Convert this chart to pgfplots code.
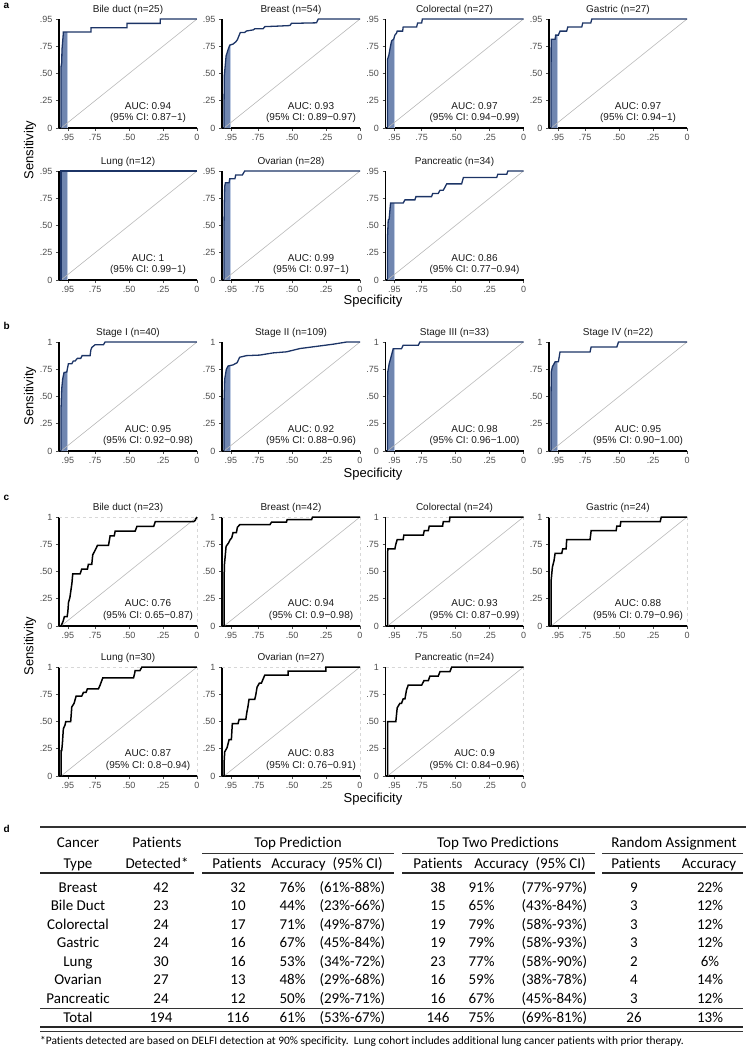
\documentclass[border=0pt]{standalone}
\usepackage{fontspec}
\setmainfont{Liberation Sans}
\newfontfamily\calib[Ligatures=NoCommon]{Carlito}
\usepackage{pgfplots}
\pgfplotsset{compat=1.18}
\definecolor{navycol}{RGB}{28,52,102}
\definecolor{bandfill}{RGB}{112,134,176}
\definecolor{bandlight}{RGB}{190,203,226}
\definecolor{diagcol}{RGB}{185,185,185}
\definecolor{tickgray}{RGB}{77,77,77}
\definecolor{titlegray}{RGB}{26,26,26}
\definecolor{framegray}{RGB}{215,215,215}
\pgfplotsset{
  roc/.style={
    scale only axis, width=138pt, height=109pt, anchor=south west,
    xmin=0, xmax=1.015, x dir=reverse, ymin=0, ymax=1,
    axis x line*=bottom, axis y line*=left,
    axis line style={-, line width=1.5pt, black},
    xtick={0.95,0.75,0.5,0.25,0}, xticklabels={.95,.75,.50,.25,0},
    ytick={0,0.25,0.5,0.75,1},
    tick align=outside, major tick length=3pt,
    tick style={line width=0.6pt, tickgray},
    tick label style={font=\fontsize{9}{10}\selectfont, text=tickgray},
    title style={at={(0.5,1)}, anchor=base, yshift=1pt, font=\fontsize{10}{12}\selectfont, text=titlegray},
    clip=false,
    /pgf/number format/assume math mode=true,
  },
}
% panel with band: #1 x, #2 ybottom, #3 title, #4 ylabels, #5 curve, #6 fill, #7 sens at .95, #8 AUC, #9 CI
\newcommand{\rocpanel}[9]{%
\begin{axis}[roc, at={(#1pt,-#2pt)}, title={#3}, yticklabels={#4}]
 \addplot[fill=bandfill, draw=none] coordinates {#6};
 \addplot[bandlight, line width=1pt] coordinates {(0.95,0) (0.95,#7)};
 \addplot[diagcol, line width=0.6pt] coordinates {(1,0) (0,1)};
 \addplot[navycol, line width=1.3pt] coordinates {#5};
 \node[anchor=base, font=\fontsize{10}{12}\selectfont, text=titlegray] at (axis cs:0.36,0.17) {AUC: #8};
 \node[anchor=base, font=\fontsize{10}{12}\selectfont, text=titlegray] at (axis cs:0.36,0.065) {(95\% CI: #9)};
\end{axis}}
% panel c: #1 x, #2 ybottom, #3 title, #4 curve, #5 AUC, #6 CI
\newcommand{\rocc}[6]{%
\begin{axis}[roc, at={(#1pt,-#2pt)}, title={#3}, yticklabels={0,.25,.50,.75,1}]
 \draw[framegray, dashed, line width=0.6pt] (rel axis cs:0,1) -- (rel axis cs:1,1) -- (rel axis cs:1,0);
 \addplot[diagcol, line width=0.6pt] coordinates {(1,0) (0,1)};
 \addplot[black, line width=1.5pt] coordinates {#4};
 \node[anchor=base, font=\fontsize{10}{12}\selectfont, text=titlegray] at (axis cs:0.36,0.175) {AUC: #5};
 \node[anchor=base, font=\fontsize{10}{12}\selectfont, text=titlegray] at (axis cs:0.36,0.068) {(95\% CI: #6)};
\end{axis}}
\begin{document}
\begin{tikzpicture}
\useasboundingbox (0,0) rectangle (747pt,-1050pt);
% ---------- panel a ----------
\node[anchor=north west, font=\bfseries\fontsize{10}{12}\selectfont] at (0pt,0pt) {a};
\rocpanel{59}{128}{Bile duct (n=25)}{0,.25,.50,.75,.95}
 {(1,0)(1,0.56)(0.995,0.6)(0.993,0.72)(0.985,0.84)(0.983,0.88)(0.78,0.88)(0.78,0.92)(0.515,0.92)(0.515,0.96)(0.27,0.96)(0.27,1)(0,1)}
 {(1,0)(1,0.56)(0.995,0.6)(0.993,0.72)(0.985,0.84)(0.983,0.88)(0.95,0.88)(0.95,0)}{0.88}{0.94}{0.87−1}
\rocpanel{222}{128}{Breast (n=54)}{0,.25,.50,.75,.95}
 {(1,0)(1,0.2)(0.998,0.48)(0.985,0.66)(0.97,0.72)(0.958,0.76)(0.934,0.77)(0.914,0.79)(0.902,0.81)(0.889,0.85)(0.88,0.877)(0.848,0.877)(0.835,0.89)(0.786,0.90)(0.774,0.91)(0.713,0.91)(0.70,0.93)(0.60,0.935)(0.516,0.94)(0.504,0.96)(0.32,0.965)(0.307,1)(0,1)}
 {(1,0)(1,0.2)(0.998,0.48)(0.985,0.66)(0.97,0.72)(0.958,0.76)(0.95,0.763)(0.95,0)}{0.763}{0.93}{0.89−0.97}
\rocpanel{385.5}{128}{Colorectal (n=27)}{0,.25,.50,.75,.95}
 {(1,0)(1,0.63)(0.99,0.67)(0.98,0.74)(0.97,0.80)(0.955,0.815)(0.946,0.852)(0.934,0.87)(0.929,0.889)(0.889,0.889)(0.885,0.926)(0.786,0.926)(0.779,0.963)(0.749,0.963)(0.744,1)(0,1)}
 {(1,0)(1,0.63)(0.99,0.67)(0.98,0.74)(0.97,0.80)(0.955,0.815)(0.95,0.835)(0.95,0)}{0.835}{0.97}{0.94−0.99}
\rocpanel{549}{128}{Gastric (n=27)}{0,.25,.50,.75,.95}
 {(1,0)(1,0.45)(0.999,0.815)(0.97,0.815)(0.966,0.852)(0.946,0.852)(0.934,0.889)(0.885,0.889)(0.877,0.926)(0.774,0.926)(0.767,0.963)(0.708,0.963)(0.70,1)(0,1)}
 {(1,0)(1,0.45)(0.999,0.815)(0.97,0.815)(0.966,0.852)(0.95,0.852)(0.95,0)}{0.852}{0.97}{0.94−1}
\rocpanel{59}{280}{Lung (n=12)}{0,.25,.50,.75,.95}
 {(1,0)(1,1)(0,1)}
 {(1,0)(1,1)(0.95,1)(0.95,0)}{1}{1}{0.99−1}
\rocpanel{222}{280}{Ovarian (n=28)}{0,.25,.50,.75,.95}
 {(1,0)(1,0.5)(0.998,0.7)(0.995,0.857)(0.99,0.893)(0.963,0.893)(0.958,0.929)(0.92,0.929)(0.914,0.964)(0.865,0.964)(0.848,1)(0,1)}
 {(1,0)(1,0.5)(0.998,0.7)(0.995,0.857)(0.99,0.893)(0.963,0.893)(0.958,0.929)(0.95,0.929)(0.95,0)}{0.929}{0.99}{0.97−1}
\rocpanel{385.5}{280}{Pancreatic (n=34)}{0,.25,.50,.75,.95}
 {(1,0)(1,0.4)(0.995,0.55)(0.988,0.56)(0.978,0.706)(0.885,0.706)(0.872,0.735)(0.799,0.735)(0.791,0.765)(0.676,0.765)(0.668,0.794)(0.627,0.794)(0.614,0.824)(0.59,0.824)(0.577,0.853)(0.565,0.882)(0.455,0.882)(0.442,0.941)(0.197,0.941)(0.189,0.971)(0.123,0.971)(0.115,1)(0,1)}
 {(1,0)(1,0.4)(0.995,0.55)(0.988,0.56)(0.978,0.706)(0.95,0.706)(0.95,0)}{0.706}{0.86}{0.77−0.94}
\node[font=\fontsize{13}{15}\selectfont, rotate=90] at (30pt,-150pt) {Sensitivity};
\node[font=\fontsize{13}{15}\selectfont] at (373pt,-301pt) {Specificity};
% ---------- panel b ----------
\node[anchor=north west, font=\bfseries\fontsize{10}{12}\selectfont] at (0pt,-319pt) {b};
\rocpanel{59}{451}{Stage I (n=40)}{0,.25,.50,.75,1}
 {(1,0)(1,0.39)(0.995,0.57)(0.988,0.66)(0.978,0.72)(0.958,0.725)(0.946,0.8)(0.921,0.8)(0.91,0.825)(0.897,0.825)(0.88,0.85)(0.855,0.85)(0.845,0.875)(0.786,0.875)(0.781,0.925)(0.774,0.95)(0.749,0.975)(0.688,0.975)(0.676,1)(0,1)}
 {(1,0)(1,0.39)(0.995,0.57)(0.988,0.66)(0.978,0.72)(0.958,0.725)(0.95,0.775)(0.95,0)}{0.775}{0.95}{0.92−0.98}
\rocpanel{222}{451}{Stage II (n=109)}{0,.25,.50,.75,1}
 {(1,0)(1,0.45)(0.995,0.66)(0.983,0.75)(0.97,0.78)(0.934,0.79)(0.904,0.81)(0.885,0.86)(0.835,0.875)(0.737,0.88)(0.639,0.9)(0.54,0.91)(0.442,0.94)(0.319,0.96)(0.197,0.98)(0.098,1)(0,1)}
 {(1,0)(1,0.45)(0.995,0.66)(0.983,0.75)(0.97,0.78)(0.95,0.785)(0.95,0)}{0.785}{0.92}{0.88−0.96}
\rocpanel{385.5}{451}{Stage III (n=33)}{0,.25,.50,.75,1}
 {(1,0)(1,0.36)(0.999,0.72)(0.988,0.8)(0.975,0.86)(0.958,0.939)(0.897,0.939)(0.885,0.97)(0.774,0.97)(0.762,1)(0,1)}
 {(1,0)(1,0.36)(0.999,0.72)(0.988,0.8)(0.975,0.86)(0.958,0.939)(0.95,0.939)(0.95,0)}{0.939}{0.98}{0.96−1.00}
\rocpanel{549}{451}{Stage IV (n=22)}{0,.25,.50,.75,1}
 {(1,0)(1,0.5)(0.998,0.727)(0.99,0.773)(0.97,0.818)(0.946,0.818)(0.934,0.909)(0.713,0.909)(0.705,0.955)(0.516,0.955)(0.504,1)(0,1)}
 {(1,0)(1,0.5)(0.998,0.727)(0.99,0.773)(0.97,0.818)(0.95,0.818)(0.95,0)}{0.818}{0.95}{0.90−1.00}
\node[font=\fontsize{13}{15}\selectfont, rotate=90] at (30pt,-396pt) {Sensitivity};
\node[font=\fontsize{13}{15}\selectfont] at (373pt,-474pt) {Specificity};
% ---------- panel c ----------
\node[anchor=north west, font=\bfseries\fontsize{10}{12}\selectfont] at (0pt,-492pt) {c};
\rocc{59}{626}{Bile duct (n=23)}
 {(1,0)(0.985,0.043)(0.975,0.087)(0.955,0.087)(0.95,0.13)(0.945,0.217)(0.935,0.261)(0.93,0.304)(0.92,0.391)(0.914,0.478)(0.86,0.478)(0.848,0.522)(0.806,0.522)(0.799,0.565)(0.774,0.565)(0.767,0.652)(0.749,0.696)(0.732,0.739)(0.651,0.739)(0.639,0.826)(0.609,0.826)(0.602,0.870)(0.455,0.870)(0.442,0.913)(0.319,0.913)(0.307,0.957)(0.025,0.957)(0.012,0.97)(0.01,0.98)(0,1)}
 {0.76}{0.65−0.87}
\rocc{222}{626}{Breast (n=42)}
 {(1,0)(1,0.31)(0.998,0.55)(0.985,0.73)(0.968,0.76)(0.956,0.79)(0.943,0.81)(0.934,0.857)(0.909,0.857)(0.902,0.905)(0.885,0.929)(0.663,0.929)(0.651,0.952)(0.541,0.952)(0.536,0.976)(0.356,0.976)(0.349,1)(0,1)}
 {0.94}{0.9−0.98}
\rocc{385.5}{626}{Colorectal (n=24)}
 {(1,0)(1,0.625)(0.998,0.708)(0.946,0.708)(0.939,0.75)(0.929,0.792)(0.885,0.792)(0.88,0.833)(0.737,0.833)(0.73,0.875)(0.70,0.875)(0.693,0.917)(0.595,0.917)(0.59,0.958)(0.545,0.958)(0.541,1)(0,1)}
 {0.93}{0.87−0.99}
\rocc{549}{626}{Gastric (n=24)}
 {(1,0)(1,0.19)(0.999,0.42)(0.99,0.54)(0.978,0.6)(0.97,0.667)(0.921,0.667)(0.914,0.708)(0.889,0.708)(0.885,0.792)(0.713,0.792)(0.705,0.875)(0.521,0.875)(0.516,0.917)(0.491,0.917)(0.487,0.958)(0.197,0.958)(0.189,1)(0,1)}
 {0.88}{0.79−0.96}
\rocc{59}{776}{Lung (n=30)}
 {(1,0)(1,0.233)(0.995,0.233)(0.99,0.3)(0.983,0.433)(0.971,0.467)(0.965,0.5)(0.929,0.5)(0.921,0.633)(0.904,0.667)(0.889,0.733)(0.848,0.733)(0.835,0.767)(0.816,0.767)(0.806,0.8)(0.725,0.8)(0.713,0.833)(0.693,0.9)(0.467,0.9)(0.46,0.933)(0.455,0.967)(0.42,0.967)(0.405,1)(0,1)}
 {0.87}{0.8−0.94}
\rocc{222}{776}{Ovarian (n=27)}
 {(1,0)(1,0.111)(0.995,0.222)(0.978,0.259)(0.963,0.333)(0.946,0.333)(0.939,0.481)(0.897,0.481)(0.889,0.519)(0.84,0.519)(0.831,0.593)(0.825,0.63)(0.816,0.704)(0.774,0.704)(0.767,0.741)(0.757,0.815)(0.74,0.852)(0.725,0.852)(0.713,0.889)(0.70,0.926)(0.528,0.926)(0.528,0.963)(0.251,0.963)(0.251,1)(0,1)}
 {0.83}{0.76−0.91}
\rocc{385.5}{776}{Pancreatic (n=24)}
 {(1,0)(1,0.5)(0.939,0.5)(0.929,0.625)(0.909,0.667)(0.897,0.667)(0.885,0.708)(0.872,0.708)(0.86,0.792)(0.848,0.833)(0.749,0.833)(0.732,0.875)(0.70,0.875)(0.688,0.917)(0.627,0.917)(0.614,0.958)(0.541,0.958)(0.528,1)(0,1)}
 {0.9}{0.84−0.96}
\node[font=\fontsize{13}{15}\selectfont, rotate=90] at (30pt,-646pt) {Sensitivity};
\node[font=\fontsize{13}{15}\selectfont] at (373pt,-799pt) {Specificity};
% ---------- panel d (table) ----------
\node[anchor=north west, font=\bfseries\fontsize{10}{12}\selectfont] at (0pt,-822pt) {d};
\begin{scope}[font=\calib\fontsize{15}{18}\selectfont]
\draw[line width=1.2pt, black!80] (40pt,-827pt) -- (746pt,-827pt);
\foreach \xa/\xb in {202/394,402/595,602/743} {
  \draw[line width=0.9pt, black!80] (\xa pt,-853pt) -- (\xb pt,-853pt);
}
\foreach \xa/\xb in {40/194,202/394,402/595,602/743} {
  \draw[line width=2pt, black!85] (\xa pt,-873pt) -- (\xb pt,-873pt);
}
\draw[line width=0.9pt, black!80] (40pt,-1008pt) -- (743pt,-1008pt);
\draw[line width=2pt, black!85] (40pt,-1027pt) -- (743pt,-1027pt);
\draw[line width=0.8pt, black!80] (40pt,-1031.5pt) -- (743pt,-1031.5pt);
% header
\node[anchor=base] at (78pt,-847pt) {Cancer};
\node[anchor=base] at (157pt,-847pt) {Patients};
\node[anchor=base] at (298pt,-847pt) {Top Prediction};
\node[anchor=base] at (498pt,-847pt) {Top Two Predictions};
\node[anchor=base] at (674pt,-847pt) {Random Assignment};
\node[anchor=base] at (78pt,-868pt) {Type};
\node[anchor=base] at (157pt,-868pt) {Detected*};
\node[anchor=base] at (237pt,-868pt) {Patients};
\node[anchor=base] at (327pt,-868pt) {Accuracy\ \ (95\% CI)};
\node[anchor=base] at (438pt,-868pt) {Patients};
\node[anchor=base] at (530pt,-868pt) {Accuracy\ \ (95\% CI)};
\node[anchor=base] at (636pt,-868pt) {Patients};
\node[anchor=base] at (709pt,-868pt) {Accuracy};
% rows
\foreach \cy/\cA/\cB/\cC/\cD/\cE/\cF/\cG/\cH/\cI/\cJ in {
 892/Breast/42/32/76/(61\%-88\%)/38/91/(77\%-97\%)/9/22,
 910.5/Bile Duct/23/10/44/(23\%-66\%)/15/65/(43\%-84\%)/3/12,
 929/Colorectal/24/17/71/(49\%-87\%)/19/79/(58\%-93\%)/3/12,
 947.5/Gastric/24/16/67/(45\%-84\%)/19/79/(58\%-93\%)/3/12,
 966/Lung/30/16/53/(34\%-72\%)/23/77/(58\%-90\%)/2/6,
 984.5/Ovarian/27/13/48/(29\%-68\%)/16/59/(38\%-78\%)/4/14,
 1003/Pancreatic/24/12/50/(29\%-71\%)/16/67/(45\%-84\%)/3/12,
 1022/Total/194/116/61/(53\%-67\%)/146/75/(69\%-81\%)/26/13} {
  \node[anchor=base] at (78pt,-\cy pt) {\cA};
  \node[anchor=base] at (161pt,-\cy pt) {\cB};
  \node[anchor=base] at (238pt,-\cy pt) {\cC};
  \node[anchor=base east] at (309pt,-\cy pt) {\cD\%};
  \node[anchor=base west] at (316pt,-\cy pt) {\cE};
  \node[anchor=base] at (438pt,-\cy pt) {\cF};
  \node[anchor=base east] at (498pt,-\cy pt) {\cG\%};
  \node[anchor=base west] at (518pt,-\cy pt) {\cH};
  \node[anchor=base] at (634pt,-\cy pt) {\cI};
  \node[anchor=base] at (710pt,-\cy pt) {\cJ\%};
}
\node[anchor=base west, font=\calib\fontsize{11.4}{13}\selectfont, inner sep=0pt] at (40pt,-1044pt) {*Patients detected are based on DELFI detection at 90\% specificity.\ \ Lung cohort includes additional lung cancer patients with prior therapy.};
\end{scope}
\end{tikzpicture}
\end{document}
